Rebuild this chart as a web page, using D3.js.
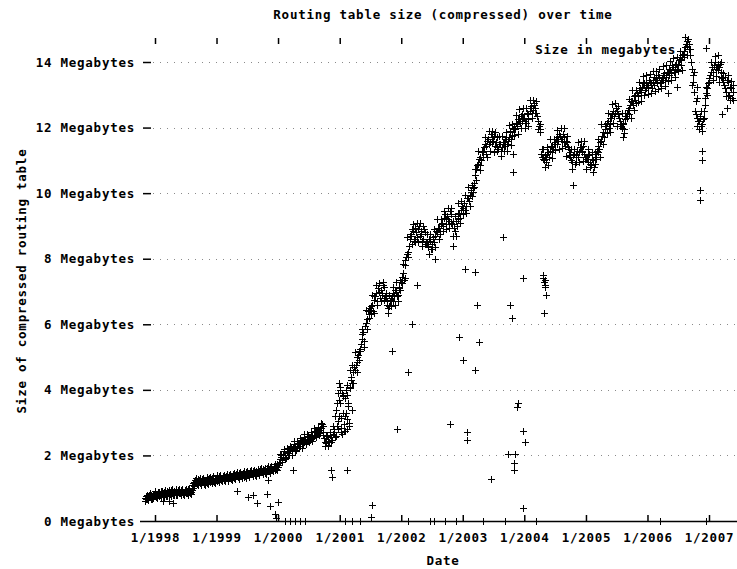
<!DOCTYPE html>
<html>
<head>
<meta charset="utf-8">
<script src="https://cdn.jsdelivr.net/npm/d3@7"></script>
<style>
  html, body { margin: 0; padding: 0; background: #fff; }
  svg { display: block; }
  text { font-family: "DejaVu Sans Mono", "Liberation Mono", monospace; font-weight: bold; font-size: 12.5px; letter-spacing: 0.75px; fill: #000; }
</style>
</head>
<body>
<script>
// Compressed routing table size, megabytes.
// Regular readings, listed per year from January unless a first month is given.
// "a" lists: 1st/11th/21st of each month, "b" lists: 6th/16th/26th,
// "c" lists: 3rd/13th/23rd.
const mb1997a = [0.70, 0.66, 0.74, 0.72, 0.78, 0.70]; // from November
const mb1997b = [0.76, 0.68, 0.80, 0.66, 0.74, 0.82]; // from November
const mb1997c = [0.62, 0.80, 0.64, 0.84, 0.66, 0.82]; // from November
const mb1998a = [
  0.80, 0.74, 0.84, 0.78, 0.86, 0.80, 0.84, 0.79, 0.88, 0.82, 0.90, 0.85,
  0.88, 0.82, 0.90, 0.85, 0.92, 0.86, 0.90, 0.84, 0.92, 0.88, 1.10, 1.18,
  1.22, 1.15, 1.25, 1.18, 1.24, 1.14, 1.22, 1.28, 1.20, 1.26, 1.22, 1.30];
const mb1998b = [
  0.72, 0.88, 0.76, 0.90, 0.74, 0.88, 0.76, 0.92, 0.80, 0.94, 0.80, 0.92,
  0.80, 0.95, 0.84, 0.96, 0.82, 0.94, 0.84, 0.97, 0.86, 0.95, 1.02, 1.25,
  1.12, 1.28, 1.16, 1.28, 1.12, 1.26, 1.16, 1.30, 1.24, 1.32, 1.20, 1.28];
const mb1998c = [
  0.90, 0.70, 0.88, 0.72, 0.92, 0.74, 0.94, 0.75, 0.95, 0.77, 0.97, 0.78,
  0.97, 0.78, 0.98, 0.80, 0.99, 0.80, 0.99, 0.80, 1.00, 0.82, 1.15, 1.08,
  1.30, 1.10, 1.31, 1.10, 1.30, 1.10, 1.33, 1.13, 1.34, 1.16, 1.36, 1.17];
const mb1999a = [
  1.28, 1.24, 1.32, 1.27, 1.33, 1.29, 1.34, 1.28, 1.36, 1.32, 1.39, 1.35,
  1.38, 1.33, 1.41, 1.36, 1.42, 1.38, 1.44, 1.38, 1.46, 1.42, 1.48, 1.44,
  1.50, 1.45, 1.53, 1.48, 1.55, 1.50, 1.56, 1.51, 1.60, 1.57, 1.65, 1.60];
const mb1999b = [
  1.22, 1.36, 1.26, 1.36, 1.24, 1.38, 1.30, 1.40, 1.28, 1.42, 1.30, 1.44,
  1.34, 1.46, 1.36, 1.46, 1.34, 1.48, 1.40, 1.52, 1.42, 1.52, 1.40, 1.54,
  1.46, 1.58, 1.48, 1.58, 1.46, 1.62, 1.52, 1.66, 1.56, 1.68, 1.55, 1.75];
const mb1999c = [
  1.39, 1.19, 1.40, 1.21, 1.41, 1.22, 1.43, 1.23, 1.44, 1.26, 1.46, 1.27,
  1.48, 1.28, 1.49, 1.31, 1.51, 1.32, 1.54, 1.34, 1.55, 1.37, 1.57, 1.38,
  1.60, 1.40, 1.61, 1.43, 1.63, 1.44, 1.67, 1.47, 1.68, 1.52, 1.74, 1.56];
const mb2000a = [
  1.70, 1.88, 1.95, 2.02, 1.96, 2.10, 2.08, 2.18, 2.12, 2.22, 2.30, 2.25,
  2.35, 2.28, 2.42, 2.40, 2.50, 2.44, 2.55, 2.48, 2.62, 2.60, 2.70, 2.66,
  2.78, 2.85, 2.72, 2.52, 2.38, 2.45, 2.40, 2.55, 2.65, 2.70, 3.40, 3.05];
const mb2000b = [
  1.78, 2.00, 1.85, 2.12, 1.92, 2.20, 2.02, 2.26, 2.20, 2.34, 2.18, 2.38,
  2.30, 2.48, 2.36, 2.55, 2.38, 2.58, 2.50, 2.70, 2.54, 2.76, 2.58, 2.82,
  2.68, 2.95, 2.62, 2.42, 2.58, 2.32, 2.62, 2.48, 2.80, 3.20, 2.90, 3.70];
const mb2000c = [
  1.65, 2.05, 1.80, 2.20, 1.90, 2.22, 2.00, 2.30, 2.02, 2.44, 2.14, 2.45,
  2.22, 2.52, 2.24, 2.64, 2.34, 2.65, 2.42, 2.72, 2.44, 2.85, 2.55, 2.86,
  2.62, 2.98, 2.90, 2.30, 2.60, 2.28, 2.72, 2.42, 2.90, 2.55, 3.60, 2.80];
const mb2001a = [
  3.60, 2.85, 3.30, 3.75, 3.10, 3.50, 4.10, 4.40, 4.55, 4.60, 4.85, 5.05,
  5.25, 5.55, 5.75, 5.95, 6.15, 6.30, 6.45, 6.60, 6.75, 6.85, 6.70, 7.00,
  7.05, 6.90, 7.15, 6.80, 6.60, 6.55, 6.75, 6.95, 6.85, 7.00, 6.90, 7.10];
const mb2001b = [
  3.15, 3.90, 2.75, 3.30, 3.85, 3.00, 4.30, 4.20, 4.70, 4.75, 5.00, 4.90,
  5.40, 5.70, 5.50, 6.05, 6.40, 6.20, 6.55, 6.40, 6.85, 6.95, 7.10, 6.80,
  6.95, 7.20, 6.85, 6.70, 6.50, 6.70, 6.85, 6.70, 7.05, 6.85, 7.15, 7.05];
const mb2001c = [
  4.00, 2.65, 3.85, 2.75, 4.15, 2.90, 4.05, 4.75, 4.20, 5.15, 4.55, 5.20,
  5.20, 5.85, 5.30, 6.45, 5.85, 6.50, 6.30, 6.90, 6.35, 7.20, 6.60, 7.25,
  6.70, 7.30, 6.75, 6.95, 6.35, 6.90, 6.55, 7.15, 6.60, 7.30, 6.70, 7.35];
const mb2002a = [
  7.30, 7.55, 7.80, 8.05, 8.20, 8.60, 8.70, 8.85, 8.60, 8.80, 8.90, 8.70,
  8.75, 8.60, 8.80, 8.50, 8.40, 8.55, 8.45, 8.65, 8.70, 8.80, 8.95, 8.85,
  9.10, 9.25, 9.05, 9.30, 9.15, 9.35, 9.05, 8.95, 9.15, 9.20, 9.40, 9.50];
const mb2002b = [
  7.45, 7.35, 7.95, 8.15, 8.40, 8.75, 8.90, 8.55, 8.95, 8.65, 9.00, 8.85,
  8.55, 8.90, 8.50, 8.35, 8.60, 8.30, 8.60, 8.50, 8.85, 8.95, 8.75, 9.05,
  9.00, 9.35, 9.20, 9.20, 9.45, 9.10, 9.15, 8.85, 9.00, 9.35, 9.25, 9.60];
const mb2002c = [
  7.25, 7.85, 7.40, 8.65, 8.05, 8.70, 8.45, 9.05, 8.50, 9.10, 8.50, 9.10,
  8.40, 9.00, 8.45, 8.75, 8.15, 8.75, 8.30, 8.90, 8.35, 9.20, 8.60, 9.20,
  8.85, 9.45, 8.90, 9.55, 8.95, 9.55, 8.70, 9.30, 8.70, 9.70, 9.10, 9.75];
const mb2003a = [
  9.55, 9.70, 9.60, 9.85, 9.95, 10.10, 10.05, 10.30, 10.75, 10.90, 11.10, 11.00,
  11.30, 11.50, 11.45, 11.65, 11.55, 11.70, 11.60, 11.45, 11.70, 11.35, 11.50, 11.40,
  11.55, 11.65, 11.50, 11.70, 11.85, 11.75, 12.00, 12.15, 12.05, 12.25, 12.35, 12.20];
const mb2003b = [
  9.70, 9.50, 9.85, 9.75, 10.05, 9.90, 10.20, 10.55, 10.85, 11.05, 10.85, 11.25,
  11.40, 11.20, 11.60, 11.50, 11.80, 11.55, 11.75, 11.55, 11.40, 11.50, 11.30, 11.55,
  11.45, 11.70, 11.60, 11.90, 11.65, 11.95, 11.95, 12.10, 12.25, 12.15, 12.40, 12.30];
const mb2003c = [
  9.35, 9.95, 9.40, 10.20, 9.60, 10.25, 10.15, 10.75, 10.40, 11.30, 10.70, 11.30,
  11.10, 11.70, 11.10, 11.90, 11.30, 11.90, 11.27, 11.87, 11.30, 11.73, 11.13, 11.75,
  11.28, 11.88, 11.30, 12.08, 11.48, 12.10, 11.78, 12.38, 11.80, 12.58, 11.98, 12.60];
const mb2004a = [
  12.30, 12.15, 12.40, 12.50, 12.65, 12.55, 12.75, 12.45, 12.20, 11.95, 11.20, 11.05,
  11.15, 10.95, 11.25, 11.30, 11.45, 11.35, 11.55, 11.70, 11.60, 11.75, 11.60, 11.70,
  11.45, 11.55, 11.35, 11.10, 10.95, 11.20, 11.15, 11.30, 11.25, 11.40, 11.30, 11.20];
const mb2004b = [
  12.20, 12.45, 12.25, 12.60, 12.45, 12.70, 12.60, 12.35, 12.05, 11.85, 11.35, 11.00,
  11.05, 11.20, 11.10, 11.45, 11.25, 11.50, 11.65, 11.50, 11.80, 11.65, 11.80, 11.55,
  11.60, 11.40, 11.25, 11.00, 11.15, 10.90, 11.30, 11.10, 11.40, 11.25, 11.45, 11.10];
const mb2004c = [
  12.00, 12.60, 12.05, 12.85, 12.28, 12.85, 12.45, 12.80, 11.95, 12.10, 11.10, 11.35,
  10.80, 11.40, 10.85, 11.65, 11.08, 11.65, 11.33, 11.93, 11.35, 11.98, 11.38, 12.00,
  11.13, 11.73, 11.15, 11.35, 10.75, 11.35, 10.95, 11.55, 10.95, 11.58, 10.98, 11.60];
const mb2005a = [
  11.10, 10.95, 11.20, 10.85, 11.00, 10.90, 11.20, 11.45, 11.35, 11.60, 11.85, 11.95,
  12.05, 12.20, 12.10, 12.30, 12.50, 12.45, 12.60, 12.40, 12.20, 12.00, 12.15, 12.25,
  12.45, 12.60, 12.70, 12.80, 12.95, 12.85, 13.05, 13.15, 13.10, 13.25, 13.35, 13.20];
const mb2005b = [
  11.05, 11.15, 10.90, 11.05, 10.80, 11.10, 11.30, 11.25, 11.55, 11.75, 11.70, 12.05,
  12.15, 12.00, 12.30, 12.40, 12.35, 12.60, 12.50, 12.30, 12.10, 12.10, 11.95, 12.35,
  12.55, 12.40, 12.80, 12.70, 13.00, 12.75, 12.95, 13.20, 13.00, 13.35, 13.15, 13.40];
const mb2005c = [
  10.75, 11.35, 10.80, 11.25, 10.65, 11.25, 11.05, 11.65, 11.10, 12.10, 11.50, 12.10,
  11.83, 12.43, 11.85, 12.73, 12.13, 12.75, 12.05, 12.65, 12.05, 12.43, 11.83, 12.45,
  12.28, 12.88, 12.30, 13.15, 12.55, 13.15, 12.78, 13.38, 12.80, 13.58, 12.98, 13.60];
const mb2006a = [
  13.30, 13.45, 13.35, 13.40, 13.30, 13.50, 13.45, 13.55, 13.40, 13.50, 13.65, 13.55,
  13.70, 13.80, 13.65, 13.85, 13.75, 13.95, 13.95, 14.10, 14.05, 14.25, 14.45, 14.65,
  14.70, 14.20, 13.80, 13.40, 12.50, 12.30, 12.20, 12.35, 12.10, 12.50, 12.90, 13.20];
const mb2006b = [
  13.25, 13.40, 13.20, 13.55, 13.45, 13.35, 13.60, 13.35, 13.50, 13.60, 13.45, 13.70,
  13.60, 13.75, 13.90, 13.70, 13.90, 13.80, 14.05, 13.90, 14.20, 14.35, 14.55, 14.50,
  14.40, 14.00, 13.60, 13.10, 12.40, 12.20, 12.30, 12.05, 12.25, 12.70, 13.05, 13.35];
const mb2006c = [
  13.03, 13.63, 13.05, 13.72, 13.12, 13.72, 13.18, 13.78, 13.20, 13.88, 13.28, 13.90,
  13.43, 14.03, 13.45, 14.13, 13.53, 14.15, 13.74, 14.34, 13.75, 14.16, 14.76, 14.20,
  14.55, 14.40, 13.30, 13.70, 12.80, 12.05, 11.95, 12.50, 11.90, 12.30, 13.25, 13.00];
const mb2007a = [
  13.50, 13.70, 13.85, 13.90, 13.80, 13.95, 13.85, 13.70, 13.50, 13.30, 13.10, 13.40,
  13.00, 13.20, 13.10];
const mb2007b = [
  13.60, 13.85, 13.70, 14.00, 13.85, 13.75, 13.95, 13.55, 13.65, 13.20, 13.45, 12.95,
  13.25, 12.90, 13.30];
const mb2007c = [
  13.40, 14.00, 13.45, 14.18, 13.58, 14.20, 13.40, 14.00, 13.40, 13.55, 12.95, 13.60,
  12.83, 13.43, 12.85];

// Readings away from the main trend.
const strayReadings = [
  ["1998-02-18", 0.60], ["1998-03-25", 0.62], ["1998-04-20", 0.55],
  ["1999-05-01", 0.90], ["1999-07-05", 0.72], ["1999-08-04", 0.80], ["1999-08-28", 0.56],
  ["1999-10-26", 0.82], ["1999-11-02", 1.25], ["1999-11-14", 0.45], ["1999-12-14", 0.22],
  ["1999-12-20", 0.10], ["2000-01-03", 0.58], ["2000-03-28", 1.55],
  ["2000-11-10", 1.55], ["2000-11-15", 1.35], ["2001-02-15", 1.55],
  ["2000-12-10", 2.60], ["2000-12-20", 3.90], ["2000-12-25", 3.20], ["2000-12-28", 4.20],
  ["2001-01-05", 4.10], ["2001-01-10", 2.70], ["2001-01-18", 3.80], ["2001-01-25", 2.95],
  ["2001-02-01", 3.20], ["2001-02-08", 4.00], ["2001-02-14", 2.80], ["2001-02-22", 3.60],
  ["2001-03-05", 4.60], ["2001-03-12", 3.40],
  ["2001-07-08", 0.12], ["2001-07-12", 0.49], ["2001-11-06", 5.20], ["2001-12-05", 2.80],
  ["2002-02-10", 4.55], ["2002-03-05", 6.00], ["2002-04-05", 7.20], ["2002-07-20", 8.00],
  ["2002-10-17", 2.96], ["2002-11-04", 8.40], ["2002-12-09", 5.60],
  ["2003-01-01", 4.90], ["2003-01-15", 7.70], ["2003-01-25", 2.70], ["2003-01-27", 2.47],
  ["2003-03-14", 7.60], ["2003-03-16", 4.60], ["2003-03-25", 6.60], ["2003-04-05", 5.45],
  ["2003-06-18", 1.28], ["2003-08-25", 8.65], ["2003-09-24", 2.04],
  ["2003-10-08", 6.60], ["2003-10-19", 6.20], ["2003-10-28", 11.20], ["2003-10-29", 10.65],
  ["2003-10-30", 1.77], ["2003-10-31", 1.55], ["2003-11-06", 2.04],
  ["2003-11-18", 3.48], ["2003-11-22", 3.60], ["2003-12-25", 7.40], ["2003-12-26", 2.75],
  ["2003-12-27", 0.40], ["2004-01-04", 2.40],
  ["2004-04-22", 7.50], ["2004-04-24", 7.40], ["2004-04-26", 7.30], ["2004-04-28", 6.35],
  ["2004-04-30", 7.20], ["2004-05-02", 7.15], ["2004-05-04", 7.35], ["2004-05-06", 6.90],
  ["2004-10-16", 10.25], ["2005-08-08", 11.70], ["2006-05-01", 13.05], ["2006-06-25", 13.25],
  ["2006-10-19", 13.25], ["2006-10-21", 12.90], ["2006-11-07", 10.10], ["2006-11-08", 9.80],
  ["2006-11-19", 11.30], ["2006-11-21", 11.00], ["2007-03-18", 12.40], ["2007-04-16", 12.60]
];

// Days on which the table read as empty.
const emptyDays = [
  "2000-02-10", "2000-03-10", "2000-04-08", "2000-05-10", "2000-06-10",
  "2001-02-03", "2001-03-15", "2001-05-01", "2002-02-10", "2002-06-21",
  "2002-07-13", "2002-09-17", "2002-11-22", "2003-05-01", "2003-09-09",
  "2004-03-10", "2006-03-15", "2006-12-14"
];

const sizeTicks = [0, 2, 4, 6, 8, 10, 12, 14];
const titleText = "Routing table size (compressed) over time";
const keyText = "Size in megabytes";

const W = 737, H = 569;
const parse = d3.timeParse("%Y-%m-%d");

function monthly(year, values, firstDay, firstMonth = 0) {
  return values.map((v, i) => ({
    date: new Date(year, firstMonth + Math.floor(i / 3), firstDay + 10 * (i % 3)),
    mb: v
  }));
}

const regular = [
  [1997, mb1997a, mb1997b, mb1997c, 10], [1998, mb1998a, mb1998b, mb1998c, 0],
  [1999, mb1999a, mb1999b, mb1999c, 0], [2000, mb2000a, mb2000b, mb2000c, 0],
  [2001, mb2001a, mb2001b, mb2001c, 0], [2002, mb2002a, mb2002b, mb2002c, 0],
  [2003, mb2003a, mb2003b, mb2003c, 0], [2004, mb2004a, mb2004b, mb2004c, 0],
  [2005, mb2005a, mb2005b, mb2005c, 0], [2006, mb2006a, mb2006b, mb2006c, 0],
  [2007, mb2007a, mb2007b, mb2007c, 0]
];

const points = [].concat(
  ...regular.map(([yr, a, b, c, m]) =>
    monthly(yr, a, 1, m).concat(monthly(yr, b, 6, m), monthly(yr, c, 3, m))),
  strayReadings.map(([d, v]) => ({ date: parse(d), mb: v })),
  emptyDays.map(d => ({ date: parse(d), mb: 0 }))
);

const x = d3.scaleTime()
  .domain([new Date(1998, 0, 1), new Date(2007, 0, 1)])
  .range([155, 709]);
const y = d3.scaleLinear().domain([0, 14]).range([521, 62]);

const svg = d3.select("body").append("svg")
  .attr("width", W).attr("height", H);

// horizontal grid
svg.append("g")
  .selectAll("line")
  .data(sizeTicks.filter(d => d > 0))
  .join("line")
  .attr("x1", 153).attr("x2", W)
  .attr("y1", d => Math.round(y(d)) + 0.5).attr("y2", d => Math.round(y(d)) + 0.5)
  .attr("stroke", "#8a8a8a").attr("stroke-width", 1)
  .attr("stroke-dasharray", "1,6");

// data points drawn as "+"
const plus = "M-3.5,0H3.5M0,-3.5V3.5";
svg.append("g")
  .selectAll("path")
  .data(points)
  .join("path")
  .attr("transform", d => `translate(${Math.round(x(d.date)) + 0.5},${Math.round(y(d.mb)) + 0.5})`)
  .attr("d", plus)
  .attr("fill", "none")
  .attr("stroke", "#000")
  .attr("stroke-width", 1);

// bottom axis line and year ticks
svg.append("line")
  .attr("x1", 140).attr("x2", W)
  .attr("y1", 521.5).attr("y2", 521.5)
  .attr("stroke", "#000").attr("stroke-width", 1.5);

const years = d3.timeYear.range(new Date(1998, 0, 1), new Date(2007, 0, 2));
const fmt = d3.timeFormat("%-m/%Y");

const axisB = svg.append("g")
  .attr("transform", "translate(0,521)")
  .call(d3.axisBottom(x).tickValues(years).tickFormat(fmt)
    .tickSizeInner(-6).tickSizeOuter(0).tickPadding(12));
axisB.select(".domain").remove();
axisB.selectAll(".tick line").attr("stroke", "#000").attr("stroke-width", 1.5);
axisB.selectAll(".tick text")
  .style("font-family", "DejaVu Sans Mono, monospace")
  .style("font-size", "12.5px").style("font-weight", "bold")
  .attr("fill", "#000");

const axisT = svg.append("g")
  .attr("transform", "translate(0,44)")
  .call(d3.axisTop(x).tickValues(years).tickFormat("")
    .tickSizeInner(6).tickSizeOuter(0));
axisT.select(".domain").remove();
axisT.selectAll(".tick line").attr("stroke", "#000").attr("stroke-width", 1.5);

const axisL = svg.append("g")
  .attr("transform", "translate(151,0)")
  .call(d3.axisLeft(y).tickValues(sizeTicks).tickFormat(d => `${d} Megabytes`)
    .tickSizeInner(8).tickSizeOuter(0).tickPadding(8));
axisL.select(".domain").remove();
axisL.selectAll(".tick line").attr("stroke", "#000").attr("stroke-width", 1.5)
  .filter(d => d === 0).remove();
axisL.selectAll(".tick text")
  .style("font-family", "DejaVu Sans Mono, monospace")
  .style("font-size", "12.5px").style("font-weight", "bold")
  .attr("fill", "#000");

// titles
svg.append("text")
  .attr("x", 443).attr("y", 19)
  .attr("text-anchor", "middle")
  .text(titleText);

svg.append("text")
  .attr("x", 443).attr("y", 565)
  .attr("text-anchor", "middle")
  .text("Date");

svg.append("text")
  .attr("transform", "translate(26,281) rotate(-90)")
  .attr("text-anchor", "middle")
  .text("Size of compressed routing table");

// key
svg.append("text")
  .attr("x", 676).attr("y", 54)
  .attr("text-anchor", "end")
  .text(keyText);
svg.append("path")
  .attr("transform", "translate(706.5,48.5)")
  .attr("d", plus)
  .attr("fill", "none").attr("stroke", "#000");
</script>
</body>
</html>
